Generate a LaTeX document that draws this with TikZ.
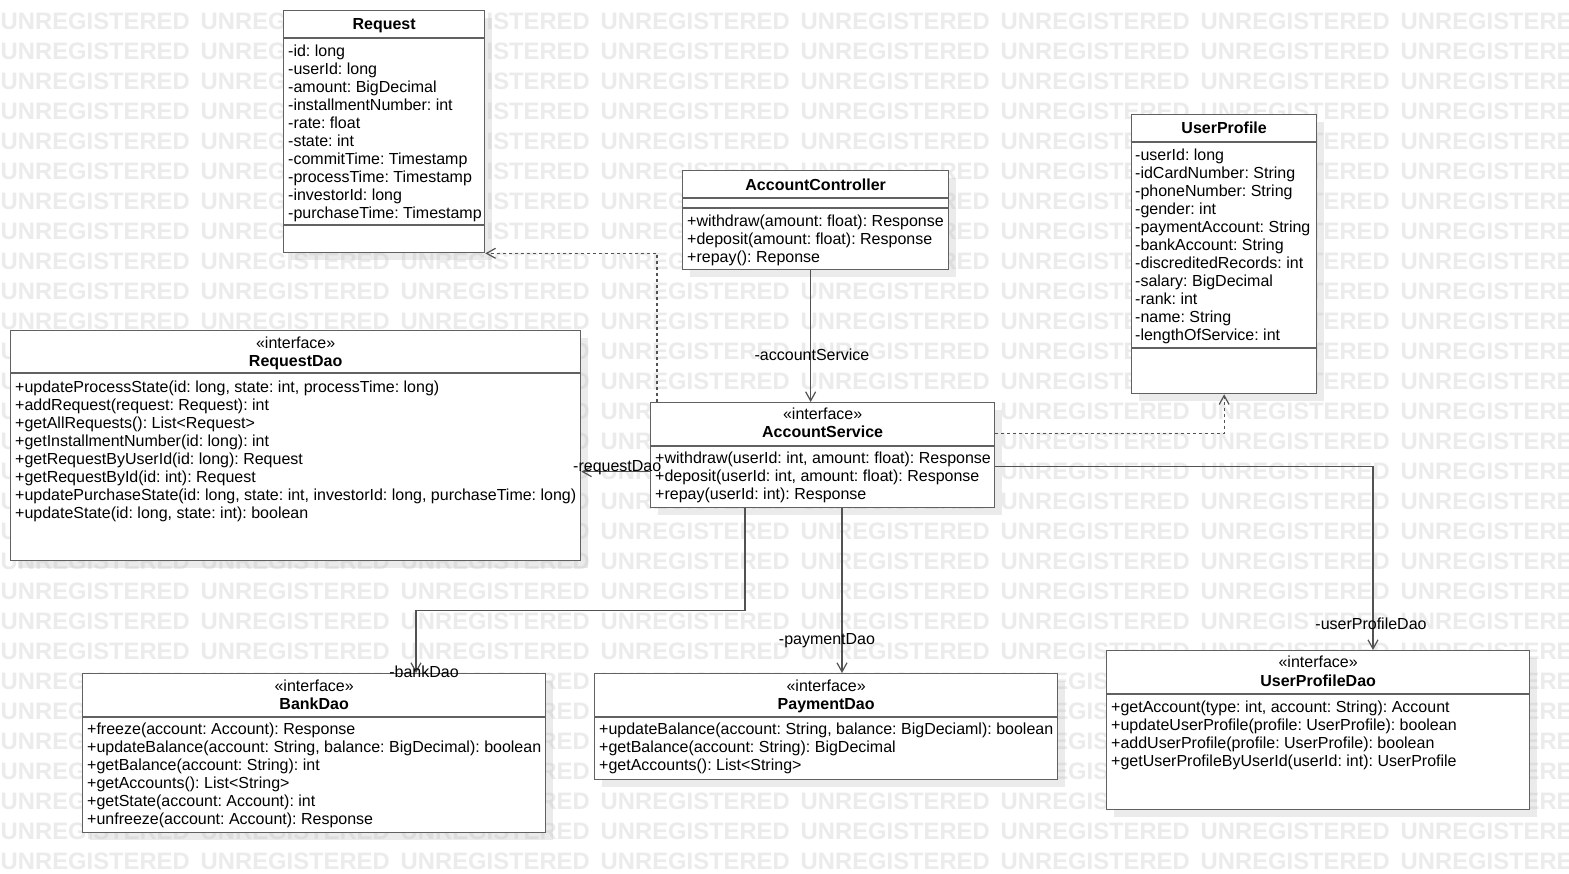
\documentclass[tikz,border=0pt]{standalone}
\usepackage{fontspec}
\setmainfont{Liberation Sans}
\usetikzlibrary{arrows.meta,shadows}
\frenchspacing

\tikzset{
  classbox/.style={draw=black!62, line width=1.3pt, fill=white, anchor=north west, inner sep=0pt,
    drop shadow={shadow xshift=7pt, shadow yshift=-7pt, fill=black!25, opacity=0.3}},
  sepline/.style={draw=black!62, line width=1.3pt},
  member/.style={anchor=base west, inner sep=0pt, font=\fontsize{16}{18}\selectfont},
  classname/.style={anchor=base, inner sep=0pt, font=\fontsize{16}{18}\selectfont\bfseries},
  stereo/.style={anchor=base, inner sep=0pt, font=\fontsize{16}{18}\selectfont},
  role/.style={anchor=base, inner sep=0pt, font=\fontsize{16}{18}\selectfont},
  assoc/.style={draw=black!68, line width=1.2pt, -{Straight Barb[length=9pt,width=10pt]}},
  depend/.style={assoc, dash pattern=on 3pt off 3pt},
  wmark/.style={anchor=base west, inner sep=0pt, text=black!8, font=\fontsize{23.8}{24}\selectfont\bfseries}
}

\begin{document}
\begin{tikzpicture}[x=1pt,y=-1pt]
	\useasboundingbox (0,0) rectangle (1569,873);
	\fill[white] (0,0) rectangle (1569,873);

	% watermark
	\foreach \r in {0,...,28}
		\foreach \c in {0,...,7}
			\node[wmark] (wm-\r-\c) at (0.5+200*\c, 29+30*\r) {UNREGISTERED};

	% class boxes
	\node[classbox, minimum width=201pt, minimum height=242pt] (request) at (283,10) {};
	\node[classbox, minimum width=266pt, minimum height=99pt] (acctrl) at (682,170) {};
	\node[classbox, minimum width=185pt, minimum height=279pt] (userprof) at (1131,114) {};
	\node[classbox, minimum width=570pt, minimum height=230pt] (reqdao) at (10,330) {};
	\node[classbox, minimum width=344pt, minimum height=105pt] (accsvc) at (650,402) {};
	\node[classbox, minimum width=463pt, minimum height=159pt] (bankdao) at (82,673) {};
	\node[classbox, minimum width=463pt, minimum height=106pt] (paydao) at (594,673) {};
	\node[classbox, minimum width=423pt, minimum height=159pt] (updao) at (1106,650) {};

	% compartments
	\draw[sepline] ([yshift=-28pt]request.north west) -- ([yshift=-28pt]request.north east);
	\draw[sepline] ([yshift=-215pt]request.north west) -- ([yshift=-215pt]request.north east);
	\draw[sepline] ([yshift=-28pt]acctrl.north west) -- ([yshift=-28pt]acctrl.north east);
	\draw[sepline] ([yshift=-38pt]acctrl.north west) -- ([yshift=-38pt]acctrl.north east);
	\draw[sepline] ([yshift=-28pt]userprof.north west) -- ([yshift=-28pt]userprof.north east);
	\draw[sepline] ([yshift=-234pt]userprof.north west) -- ([yshift=-234pt]userprof.north east);
	\draw[sepline] ([yshift=-43pt]reqdao.north west) -- ([yshift=-43pt]reqdao.north east);
	\draw[sepline] ([yshift=-44pt]accsvc.north west) -- ([yshift=-44pt]accsvc.north east);
	\draw[sepline] ([yshift=-44pt]bankdao.north west) -- ([yshift=-44pt]bankdao.north east);
	\draw[sepline] ([yshift=-44pt]paydao.north west) -- ([yshift=-44pt]paydao.north east);
	\draw[sepline] ([yshift=-44pt]updao.north west) -- ([yshift=-44pt]updao.north east);

	% names
	\node[classname] (request-name) at ([yshift=-19.5pt]request.north) {Request};
	\node[classname] (acctrl-name) at ([yshift=-20pt]acctrl.north) {AccountController};
	\node[classname] (userprof-name) at ([yshift=-19.5pt]userprof.north) {UserProfile};
	\node[stereo] (reqdao-st) at ([yshift=-18pt]reqdao.north) {«interface»};
	\node[classname] (reqdao-name) at ([yshift=-36.5pt]reqdao.north) {RequestDao};
	\node[stereo] (accsvc-st) at ([yshift=-17pt]accsvc.north) {«interface»};
	\node[classname] (accsvc-name) at ([yshift=-35.5pt]accsvc.north) {AccountService};
	\node[stereo] (bankdao-st) at ([yshift=-18pt]bankdao.north) {«interface»};
	\node[classname] (bankdao-name) at ([yshift=-36.5pt]bankdao.north) {BankDao};
	\node[stereo] (paydao-st) at ([yshift=-18pt]paydao.north) {«interface»};
	\node[classname] (paydao-name) at ([yshift=-36.5pt]paydao.north) {PaymentDao};
	\node[stereo] (updao-st) at ([yshift=-17pt]updao.north) {«interface»};
	\node[classname] (updao-name) at ([yshift=-36pt]updao.north) {UserProfileDao};

	% members
	\foreach \m [count=\i from 0] in {-id: long, -userId: long, -amount: BigDecimal,
		-installmentNumber: int, -rate: float, -state: int, -commitTime: Timestamp,
		-processTime: Timestamp, -investorId: long, -purchaseTime: Timestamp}
		\node[member] (request-\i) at (288,56.5+18*\i) {\m};
	\foreach \m [count=\i from 0] in {+withdraw(amount: float): Response,
		+deposit(amount: float): Response, +repay(): Reponse}
		\node[member] (acctrl-\i) at (687,226+18*\i) {\m};
	\foreach \m [count=\i from 0] in {-userId: long, -idCardNumber: String, -phoneNumber: String,
		-gender: int, -paymentAccount: String, -bankAccount: String, -discreditedRecords: int,
		-salary: BigDecimal, -rank: int, -name: String, -lengthOfService: int}
		\node[member] (userprof-\i) at (1135,160+18*\i) {\m};
	\foreach \m [count=\i from 0] in {{+updateProcessState(id: long, state: int, processTime: long)},
		+addRequest(request: Request): int, +getAllRequests(): List<Request>,
		+getInstallmentNumber(id: long): int, +getRequestByUserId(id: long): Request,
		+getRequestById(id: int): Request,
		{+updatePurchaseState(id: long, state: int, investorId: long, purchaseTime: long)},
		{+updateState(id: long, state: int): boolean}}
		\node[member] (reqdao-\i) at (15,392+18*\i) {\m};
	\foreach \m [count=\i from 0] in {{+withdraw(userId: int, amount: float): Response},
		{+deposit(userId: int, amount: float): Response}, +repay(userId: int): Response}
		\node[member] (accsvc-\i) at (655,463.5+18*\i) {\m};
	\foreach \m [count=\i from 0] in {+freeze(account: Account): Response,
		{+updateBalance(account: String, balance: BigDecimal): boolean},
		+getBalance(account: String): int, +getAccounts(): List<String>,
		+getState(account: Account): int, +unfreeze(account: Account): Response}
		\node[member] (bankdao-\i) at (87,734+18*\i) {\m};
	\foreach \m [count=\i from 0] in {{+updateBalance(account: String, balance: BigDeciaml): boolean},
		+getBalance(account: String): BigDecimal, +getAccounts(): List<String>}
		\node[member] (paydao-\i) at (599,734+18*\i) {\m};
	\foreach \m [count=\i from 0] in {{+getAccount(type: int, account: String): Account},
		+updateUserProfile(profile: UserProfile): boolean,
		+addUserProfile(profile: UserProfile): boolean,
		+getUserProfileByUserId(userId: int): UserProfile}
		\node[member] (updao-\i) at (1111,712+18*\i) {\m};

	% associations
	\draw[assoc] ([xshift=-5pt]acctrl.south) -- ([xshift=-5pt]acctrl.south |- accsvc.north);
	\draw[depend] ([xshift=7pt]accsvc.north west) |- (request.south east);
	\draw[depend] ([yshift=21.5pt]accsvc.east) -| (userprof.south);
	\draw[assoc] ([yshift=-16.5pt]accsvc.west) -- ([yshift=-16.5pt]accsvc.west -| reqdao.east);
	\draw[assoc] ([xshift=95pt]accsvc.south west) -- ++(0pt,-102pt) -| ([xshift=334pt]bankdao.north west);
	\draw[assoc] ([xshift=192pt]accsvc.south west) -- ([xshift=192pt]accsvc.south west |- paydao.north);
	\draw[assoc] ([yshift=-11.5pt]accsvc.east) -| ([xshift=267pt]updao.north west);

	% role names
	\node[role] (role-as) at (812,360) {-accountService};
	\node[role, anchor=base west] (role-rd) at (573,471) {-requestDao};
	\node[role] (role-bd) at (424,677) {-bankDao};
	\node[role] (role-pd) at (827,644) {-paymentDao};
	\node[role] (role-up) at (1371,629.5) {-userProfileDao};
\end{tikzpicture}
\end{document}
